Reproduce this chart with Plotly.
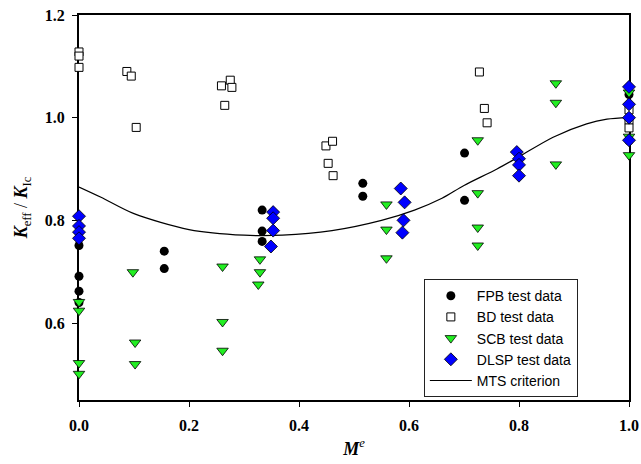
import plotly.graph_objects as go

# FPB test data (black circles)
fpb_x = [0.0, 0.0, 0.0, 0.0, 0.155, 0.155, 0.333, 0.333, 0.333, 0.516, 0.516, 0.701, 0.701, 1.0, 1.0]
fpb_y = [0.751, 0.691, 0.662, 0.640, 0.740, 0.706, 0.820, 0.779, 0.759, 0.872, 0.847, 0.931, 0.839, 1.045, 0.955]

# BD test data (open squares)
bd_x = [0.0, 0.0, 0.0, 0.087, 0.095, 0.104, 0.259, 0.275, 0.278, 0.265,
        0.449, 0.461, 0.453, 0.462, 0.728, 0.737, 0.742, 1.0, 1.0, 1.0]
bd_y = [1.128, 1.120, 1.098, 1.090, 1.081, 0.981, 1.062, 1.073, 1.059, 1.024,
        0.945, 0.954, 0.911, 0.887, 1.089, 1.018, 0.990, 1.015, 0.995, 0.980]

# SCB test data (green down triangles)
scb_x = [0.0, 0.0, 0.0, 0.0, 0.098, 0.102, 0.102, 0.261, 0.261, 0.261,
         0.329, 0.329, 0.326, 0.559, 0.559, 0.559, 0.725, 0.725, 0.725, 0.725,
         0.867, 0.867, 0.867, 1.0, 1.0, 1.0]
scb_y = [0.641, 0.624, 0.522, 0.501, 0.699, 0.562, 0.520, 0.710, 0.602, 0.546,
         0.724, 0.699, 0.675, 0.831, 0.782, 0.726, 0.956, 0.853, 0.786, 0.751,
         1.067, 1.029, 0.909, 1.049, 0.963, 0.927]

# DLSP test data (blue diamonds)
dlsp_x = [0.0, 0.0, 0.0, 0.0, 0.353, 0.353, 0.353, 0.349, 0.585, 0.592, 0.590, 0.588,
          0.796, 0.800, 0.800, 0.800, 1.0, 1.0, 1.0, 1.0]
dlsp_y = [0.808, 0.789, 0.777, 0.765, 0.816, 0.804, 0.780, 0.749, 0.862, 0.835, 0.800, 0.776,
          0.933, 0.920, 0.908, 0.887, 1.060, 1.026, 1.000, 0.956]

# MTS criterion curve
mts_x = [0.0, 0.04, 0.1, 0.2, 0.3, 0.37, 0.46, 0.55, 0.61, 0.66, 0.70, 0.76, 0.80, 0.862, 0.923, 0.96, 1.0]
mts_y = [0.865, 0.845, 0.813, 0.782, 0.771, 0.771, 0.780, 0.800, 0.820, 0.843, 0.868, 0.900, 0.924, 0.962, 0.988, 0.997, 1.0]

x_ticks = [0.0, 0.2, 0.4, 0.6, 0.8, 1.0]
y_ticks = [0.6, 0.8, 1.0, 1.2]

fig = go.Figure()
fig.add_trace(go.Scatter(x=mts_x, y=mts_y, mode="lines", name="MTS criterion",
                         line=dict(color="black", width=1.2, shape="spline", smoothing=0.8),
                         legendrank=5, cliponaxis=False))
fig.add_trace(go.Scatter(x=fpb_x, y=fpb_y, mode="markers", name="FPB test data",
                         marker=dict(symbol="circle", size=9, color="black",
                                     line=dict(color="black", width=0)),
                         legendrank=1, cliponaxis=False))
fig.add_trace(go.Scatter(x=bd_x, y=bd_y, mode="markers", name="BD test data",
                         marker=dict(symbol="square", size=8, color="white",
                                     line=dict(color="black", width=1)),
                         legendrank=2, cliponaxis=False))
fig.add_trace(go.Scatter(x=scb_x, y=scb_y, mode="markers", name="SCB test data",
                         marker=dict(symbol="triangle-down", size=10, color="#22ee22",
                                     line=dict(color="black", width=0.8)),
                         legendrank=3, cliponaxis=False))
fig.add_trace(go.Scatter(x=dlsp_x, y=dlsp_y, mode="markers", name="DLSP test data",
                         marker=dict(symbol="diamond", size=10, color="#0000ff",
                                     line=dict(color="black", width=0.8)),
                         legendrank=4, cliponaxis=False))

serif = "Liberation Serif, Times New Roman, serif"
tick_font = dict(family=serif, size=16, color="black")

fig.update_layout(
    width=641, height=464,
    margin=dict(l=79, r=12, t=15, b=64, autoexpand=False),
    paper_bgcolor="white", plot_bgcolor="white",
    showlegend=True,
    legend=dict(x=0.627, y=0.314, xanchor="left", yanchor="top",
                bgcolor="white", bordercolor="#222222", borderwidth=1,
                font=dict(family="Liberation Sans, Arial, sans-serif", size=14, color="black"),
                tracegroupgap=0, itemwidth=42),
    xaxis=dict(range=[0, 1.0], tickvals=x_ticks, ticktext=[f"<b>{v:.1f}</b>" for v in x_ticks],
               showgrid=False, zeroline=False, showline=True, linecolor="black", linewidth=2,
               mirror=True, ticks="outside", ticklen=5, tickwidth=1, tickcolor="black",
               tickfont=tick_font, layer="below traces", automargin=False, ticklabelstandoff=5,
               title=dict(text="<b><i>M</i></b><sup><i>e</i></sup>", standoff=9,
                          font=dict(family=serif, size=18, color="black"))),
    yaxis=dict(range=[0.45, 1.2], tickvals=y_ticks, ticktext=[f"<b>{v:.1f}</b>" for v in y_ticks],
               showgrid=False, zeroline=False, showline=True, linecolor="black", linewidth=2,
               mirror=True, ticks="outside", ticklen=5, tickwidth=1, tickcolor="black",
               tickfont=tick_font, layer="below traces", automargin=False, ticklabelstandoff=4,
               title=dict(text="<b><i>K</i></b><sub>eff</sub> / <b><i>K</i></b><sub>Ic</sub>", standoff=12,
                          font=dict(family=serif, size=18, color="black"))),
)

fig.write_html("out.html", config={"displayModeBar": False},
               post_script="document.body.style.margin='0px';document.body.style.overflow='hidden';")
